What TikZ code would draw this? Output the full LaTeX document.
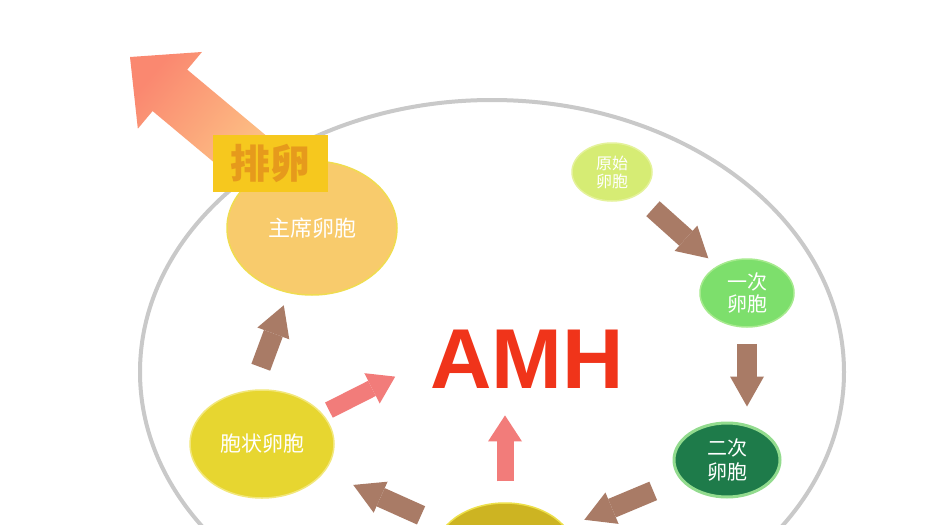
\documentclass[tikz,border=0pt]{standalone}
\usepackage{fontspec}
\setmainfont{Liberation Sans}
\newfontfamily\cjk{Noto Sans CJK SC}
\usetikzlibrary{arrows.meta,calc,shapes.geometric,backgrounds}
\definecolor{ringgray}{HTML}{C9C9C9}
\definecolor{arrbrown}{HTML}{A97B66}
\definecolor{arrpink}{HTML}{F27C7A}
\definecolor{amhred}{HTML}{F0341A}
\definecolor{ovutip}{HTML}{FA8870}
\definecolor{ovubase}{HTML}{FDCB88}
\definecolor{boxfill}{HTML}{F6C81E}
\definecolor{boxtext}{HTML}{E69A1C}
\definecolor{primfill}{HTML}{D6EC74}
\definecolor{primedge}{HTML}{E4F29A}
\definecolor{prifill}{HTML}{7DDF6C}
\definecolor{priedge}{HTML}{A6EA8E}
\definecolor{secfill}{HTML}{1E7B4A}
\definecolor{secedge}{HTML}{92DB8E}
\definecolor{botfill}{HTML}{CDB422}
\definecolor{botedge}{HTML}{EDE04A}
\definecolor{antfill}{HTML}{E7D630}
\definecolor{antedge}{HTML}{F2E77A}
\definecolor{domfill}{HTML}{F8CB6C}
\definecolor{domedge}{HTML}{F0DC50}

\begin{document}
\begin{tikzpicture}[
  x=1pt, y=-1pt,
  cell/.style={ellipse, inner sep=0pt, line width=1.5pt, text=white, align=center,
               font=\cjk\fontsize{20}{23}\selectfont},
  growflow/.style={-{Triangle[length=30pt,width=34pt,line width=0pt]}, line width=20pt, draw=arrbrown},
  amhflow/.style={-{Triangle[length=26pt,width=34pt,line width=0pt]}, line width=17pt, draw=arrpink},
  ring/.style={draw=ringgray, line width=4pt},
]
\path[use as bounding box, clip] (0,0) rectangle (935,525);

% follicle stages
\node[cell, fill=primfill, draw=primedge, minimum width=80pt, minimum height=58pt,
      font=\cjk\fontsize{16}{18}\selectfont] (prim) at (612,172) {原始\\卵胞};
\node[cell, fill=prifill, draw=priedge, minimum width=94pt, minimum height=68pt,
      font=\cjk\fontsize{20}{22}\selectfont] (pri) at (747,293) {一次\\卵胞};
\node[cell, fill=secfill, draw=secedge, line width=3pt, minimum width=106pt, minimum height=74pt,
      font=\cjk\fontsize{20}{24}\selectfont] (sec) at (727,460) {二次\\卵胞};
\node[cell, fill=botfill, draw=botedge, minimum width=140pt, minimum height=100pt] (bot) at (505,553) {};
\node[cell, fill=antfill, draw=antedge, minimum width=144pt, minimum height=108pt,
      font=\cjk\fontsize{21}{24}\selectfont] (ant) at (262,444) {胞状卵胞};
\node[cell, fill=domfill, draw=domedge, minimum width=170pt, minimum height=134pt,
      font=\cjk\fontsize{22}{24}\selectfont] (dom) at (312,228) {主席卵胞};
\node[rectangle, fill=boxfill, minimum width=115pt, minimum height=57pt, inner sep=0pt,
      text=boxtext, font=\cjk\bfseries\fontsize{40}{40}\selectfont] (box) at (270,163) {排卵};
\node[inner sep=0pt, text=amhred, font=\bfseries\fontsize{85}{85}\selectfont] (amh) at (527,359) {AMH};

% growth cycle
\draw[growflow, shorten <=55pt, shorten >=52pt] (prim.center) -- (pri.center);
\draw[growflow, shorten <=16pt, shorten >=15pt] (pri.south) -- (pri.south |- sec.north);
\draw[growflow, shorten <=80pt, shorten >=86pt] (sec.center) -- (bot.center);
\draw[growflow, shorten <=92pt, shorten >=100pt] (bot.center) -- (ant.center);
\draw[growflow, shorten <=24pt, shorten >=13pt] (ant.100) -- (dom.250);
% AMH sources
\draw[amhflow, shorten <=75pt, shorten >=39pt] (ant.center) -- (amh.west);
\draw[amhflow, shorten <=21pt, shorten >=27pt] (bot.north) -- (bot.north |- amh.south);

\begin{pgfonlayer}{background}
  \fill[white] (0,0) rectangle (935,525);
  % ovulation arrow leaving the ovary
  \coordinate (out) at (130,57);
  \coordinate (ovbase) at ($(box.center)+(0,11)$);
  \coordinate (hb) at ($(out)!52pt!(ovbase)$);
  \path[top color=ovutip, bottom color=ovubase, shading angle=50]
    (out) -- ($(hb)!50pt!90:(ovbase)$) -- ($(hb)!27pt!90:(ovbase)$)
    -- ($(ovbase)!27pt!-90:(out)$) -- ($(ovbase)!27pt!90:(out)$)
    -- ($(hb)!27pt!-90:(ovbase)$) -- ($(hb)!50pt!-90:(ovbase)$) -- cycle;
  \draw[ring] (492,372) ellipse [x radius=352, y radius=272];
\end{pgfonlayer}
\end{tikzpicture}
\end{document}
